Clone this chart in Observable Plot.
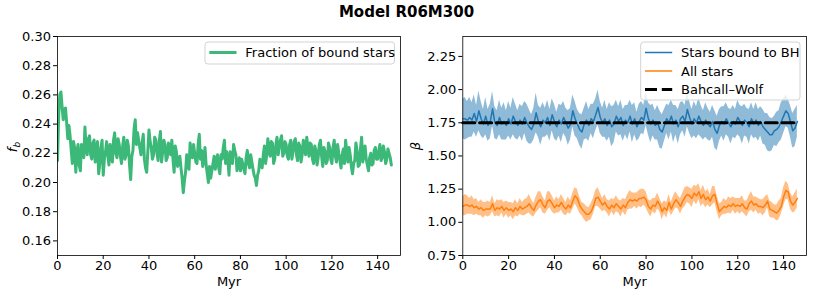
<!DOCTYPE html>
<html><head><meta charset="utf-8">
<script src="https://cdn.jsdelivr.net/npm/d3@7"></script>
<script src="https://cdn.jsdelivr.net/npm/@observablehq/plot@0.6"></script>
<style>
body{margin:0;background:#fff;font-family:"DejaVu Sans",sans-serif;}
#wrap{position:relative;width:813px;height:296px;overflow:hidden;}
#title{position:absolute;top:3px;left:0;width:813px;text-align:center;font-weight:bold;font-size:15px;color:#000;z-index:2;}
#left,#right{position:absolute;top:0;}
#left{left:0;}#right{left:406px;}
</style></head><body>
<div id="wrap"><div id="title">Model R06M300</div><div id="left"></div><div id="right"></div></div>
<script>
// ---- data ----
const timeMyr = d3.range(0, 147, 1);          // whole-Myr samples
const timeHalfMyr = d3.range(0.5, 146, 1);    // half-Myr samples (bound fraction only)
const boundFraction = [
0.215,0.260,0.252,0.250,0.241,0.239,0.222,0.228,0.207,0.226,
0.208,0.224,0.238,0.219,0.232,0.216,0.229,0.222,0.206,0.224,
0.205,0.221,0.219,0.226,0.214,0.234,0.217,0.226,0.213,0.231,
0.219,0.225,0.202,0.222,0.243,0.234,0.224,0.227,0.216,0.207,
0.236,0.224,0.219,0.229,0.215,0.235,0.221,0.226,0.217,0.224,
0.229,0.207,0.221,0.214,0.210,0.193,0.207,0.214,0.227,0.217,
0.220,0.213,0.233,0.222,0.216,0.212,0.200,0.203,0.213,0.209,
0.219,0.206,0.216,0.229,0.221,0.205,0.216,0.226,0.219,0.212,
0.208,0.213,0.206,0.222,0.210,0.214,0.205,0.198,0.208,0.213,
0.219,0.213,0.230,0.218,0.227,0.216,0.231,0.224,0.232,0.220,
0.226,0.216,0.229,0.221,0.230,0.215,0.225,0.219,0.224,0.231,
0.218,0.226,0.213,0.222,0.217,0.229,0.211,0.221,0.215,0.224,
0.213,0.229,0.214,0.220,0.210,0.223,0.229,0.214,0.219,0.206,
0.215,0.222,0.212,0.231,0.219,0.216,0.208,0.220,0.213,0.224,
0.216,0.226,0.217,0.221,0.216,0.220,0.212];
const boundFractionHalf = [
0.245,0.262,0.243,0.251,0.230,0.232,0.213,0.224,0.220,0.212,
0.226,0.217,0.224,0.230,0.219,0.227,0.214,0.228,0.213,0.229,
0.216,0.228,0.212,0.221,0.229,0.220,0.230,0.218,0.225,0.216,
0.229,0.212,0.218,0.237,0.226,0.229,0.219,0.233,0.210,0.221,
0.228,0.216,0.231,0.220,0.228,0.214,0.229,0.215,0.227,0.219,
0.216,0.225,0.211,0.218,0.203,0.201,0.219,0.209,0.221,0.226,
0.214,0.226,0.216,0.211,0.224,0.206,0.211,0.208,0.218,0.215,
0.210,0.219,0.224,0.213,0.216,0.221,0.213,0.222,0.208,0.217,
0.216,0.209,0.217,0.213,0.219,0.209,0.203,0.205,0.216,0.210,
0.225,0.219,0.221,0.228,0.213,0.226,0.219,0.229,0.218,0.228,
0.218,0.226,0.216,0.228,0.219,0.227,0.214,0.229,0.219,0.224,
0.227,0.216,0.225,0.212,0.226,0.218,0.224,0.213,0.227,0.216,
0.224,0.218,0.226,0.215,0.219,0.213,0.221,0.224,0.211,0.213,
0.227,0.211,0.223,0.214,0.225,0.212,0.217,0.212,0.222,0.216,
0.222,0.215,0.225,0.213,0.223,0.217];
const betaBound = [
1.78,1.78,1.77,1.79,1.77,1.82,1.76,1.84,1.78,1.74,
1.80,1.73,1.76,1.855,1.75,1.73,1.79,1.74,1.76,1.73,
1.78,1.74,1.80,1.76,1.73,1.77,1.74,1.79,1.75,1.72,
1.70,1.74,1.825,1.76,1.72,1.77,1.75,1.79,1.73,1.81,
1.76,1.72,1.77,1.74,1.79,1.75,1.71,1.74,1.84,1.78,
1.74,1.70,1.68,1.74,1.77,1.73,1.78,1.76,1.81,1.865,
1.79,1.75,1.78,1.73,1.77,1.72,1.74,1.80,1.76,1.79,
1.73,1.77,1.75,1.80,1.74,1.78,1.72,1.76,1.79,1.77,
1.86,1.78,1.74,1.77,1.73,1.75,1.70,1.68,1.73,1.78,
1.75,1.80,1.74,1.77,1.72,1.78,1.80,1.76,1.85,1.79,
1.74,1.78,1.75,1.80,1.76,1.73,1.77,1.74,1.72,1.76,
1.70,1.67,1.73,1.76,1.74,1.78,1.75,1.72,1.76,1.74,
1.79,1.76,1.73,1.77,1.75,1.72,1.78,1.74,1.77,1.73,
1.76,1.72,1.70,1.68,1.66,1.66,1.69,1.70,1.72,1.76,
1.80,1.84,1.82,1.76,1.69,1.71,1.76];
const betaBoundErr = [
0.15,0.16,0.14,0.15,0.13,0.14,0.12,0.15,0.13,0.11,
0.14,0.12,0.13,0.13,0.12,0.11,0.13,0.12,0.14,0.11,
0.13,0.12,0.14,0.13,0.11,0.12,0.13,0.12,0.14,0.13,
0.11,0.12,0.15,0.12,0.14,0.13,0.11,0.13,0.12,0.12,
0.13,0.11,0.12,0.14,0.12,0.11,0.13,0.12,0.12,0.13,
0.11,0.12,0.13,0.12,0.14,0.12,0.11,0.13,0.12,0.13,
0.12,0.11,0.14,0.12,0.13,0.15,0.14,0.12,0.11,0.13,
0.12,0.11,0.13,0.12,0.14,0.12,0.11,0.13,0.12,0.11,
0.13,0.12,0.14,0.12,0.11,0.13,0.14,0.13,0.12,0.11,
0.13,0.12,0.14,0.11,0.13,0.12,0.11,0.12,0.13,0.12,
0.11,0.13,0.12,0.14,0.12,0.11,0.13,0.12,0.11,0.12,
0.14,0.13,0.12,0.11,0.13,0.12,0.11,0.13,0.12,0.11,
0.13,0.12,0.14,0.12,0.11,0.13,0.12,0.11,0.13,0.12,
0.11,0.13,0.12,0.14,0.13,0.12,0.11,0.13,0.12,0.14,
0.13,0.12,0.11,0.12,0.13,0.14,0.12];
const betaAll = [
1.12,1.13,1.13,1.12,1.13,1.11,1.12,1.10,1.11,1.09,
1.10,1.10,1.10,1.14,1.09,1.11,1.10,1.12,1.09,1.11,
1.09,1.10,1.08,1.11,1.09,1.12,1.10,1.11,1.12,1.14,
1.11,1.09,1.13,1.16,1.17,1.13,1.11,1.16,1.17,1.14,
1.11,1.13,1.12,1.15,1.12,1.10,1.13,1.11,1.16,1.20,
1.18,1.13,1.10,1.08,1.06,1.06,1.08,1.12,1.18,1.19,
1.16,1.13,1.15,1.12,1.10,1.13,1.11,1.14,1.12,1.10,
1.13,1.11,1.15,1.17,1.16,1.17,1.16,1.18,1.18,1.19,
1.17,1.12,1.10,1.13,1.12,1.16,1.13,1.08,1.11,1.09,
1.15,1.10,1.14,1.17,1.15,1.12,1.16,1.19,1.21,1.20,
1.18,1.22,1.20,1.23,1.18,1.21,1.17,1.19,1.16,1.20,
1.21,1.14,1.08,1.10,1.12,1.11,1.13,1.12,1.14,1.12,
1.13,1.12,1.14,1.11,1.10,1.14,1.16,1.13,1.14,1.12,
1.12,1.11,1.13,1.16,1.10,1.09,1.08,1.07,1.09,1.12,
1.19,1.24,1.23,1.16,1.13,1.15,1.18];
const betaAllErr = [
0.07,0.08,0.07,0.06,0.07,0.06,0.06,0.05,0.06,0.06,
0.05,0.06,0.05,0.06,0.05,0.06,0.06,0.05,0.06,0.05,
0.06,0.05,0.06,0.06,0.05,0.06,0.05,0.06,0.06,0.07,
0.06,0.05,0.06,0.07,0.06,0.06,0.05,0.07,0.06,0.06,
0.05,0.06,0.05,0.06,0.06,0.05,0.06,0.05,0.06,0.06,
0.07,0.06,0.05,0.06,0.06,0.05,0.06,0.06,0.06,0.07,
0.06,0.05,0.06,0.05,0.06,0.05,0.06,0.06,0.05,0.06,
0.05,0.06,0.06,0.07,0.06,0.05,0.06,0.06,0.07,0.06,
0.06,0.05,0.06,0.05,0.06,0.06,0.05,0.06,0.05,0.06,
0.06,0.05,0.06,0.06,0.05,0.06,0.06,0.07,0.06,0.06,
0.07,0.06,0.07,0.06,0.06,0.07,0.06,0.06,0.05,0.07,
0.06,0.06,0.06,0.05,0.06,0.05,0.06,0.06,0.05,0.06,
0.05,0.06,0.06,0.05,0.06,0.06,0.07,0.06,0.05,0.06,
0.05,0.06,0.06,0.05,0.06,0.06,0.05,0.06,0.07,0.06,
0.07,0.07,0.06,0.06,0.06,0.07,0.07];
const bahcallWolf = 1.75;
const xTicks = [0, 20, 40, 60, 80, 100, 120, 140];
const fbTicks = [0.16, 0.18, 0.20, 0.22, 0.24, 0.26, 0.28, 0.30];
const betaTicks = [0.75, 1.00, 1.25, 1.50, 1.75, 2.00, 2.25];

// ---- tables ----
const leftRows = timeMyr.map((t, i) => ({t, fb: boundFraction[i]}))
  .concat(timeHalfMyr.map((t, i) => ({t, fb: boundFractionHalf[i]})))
  .sort((a, b) => a.t - b.t);
const rightRows = timeMyr.map((t, i) => ({t, b: betaBound[i], bs: betaBoundErr[i], a: betaAll[i], as: betaAllErr[i], bw: bahcallWolf}));

const GREEN = "#3cb878", BLUE = "#1f77b4", ORANGE = "#ff7f0e";
const FS = 13;
const DASH = "12,4.8";
const baseStyle = {fontFamily: "DejaVu Sans, sans-serif", fontSize: FS + "px", color: "black", background: "transparent", overflow: "visible"};

const leftSvg = Plot.plot({
  width: 406, height: 296,
  marginLeft: 57, marginRight: 6, marginTop: 36, marginBottom: 41,
  style: baseStyle,
  x: {domain: [0, 150]},
  y: {domain: [0.15, 0.30]},
  marks: [
    Plot.axisX({ticks: xTicks, tickSize: 4, tickPadding: 1.5, tickFormat: d => String(d), label: null, fontSize: FS}),
    Plot.axisY({ticks: fbTicks, tickSize: 4, tickPadding: 2.5, tickFormat: d3.format(".2f"), label: null, fontSize: FS}),
    Plot.lineY(leftRows, {x: "t", y: "fb", stroke: GREEN, strokeWidth: 3, clip: true}),
    Plot.text(["Myr"], {frameAnchor: "bottom", dy: 30, text: d => d, fontSize: FS, fill: "black"}),
    Plot.frame({stroke: "black", strokeWidth: 0.8})
  ]
});

const rightSvg = Plot.plot({
  width: 407, height: 296,
  marginLeft: 56.3, marginRight: 7, marginTop: 36, marginBottom: 41,
  style: baseStyle,
  x: {domain: [0, 150]},
  y: {domain: [0.75, 2.40]},
  marks: [
    Plot.axisX({ticks: xTicks, tickSize: 4, tickPadding: 1.5, tickFormat: d => String(d), label: null, fontSize: FS}),
    Plot.axisY({ticks: betaTicks, tickSize: 4, tickPadding: 2.5, tickFormat: d3.format(".2f"), label: null, fontSize: FS}),
    Plot.areaY(rightRows, {x: "t", y1: d => d.b - d.bs, y2: d => d.b + d.bs, fill: BLUE, fillOpacity: 0.5, clip: true}),
    Plot.lineY(rightRows, {x: "t", y: "b", stroke: BLUE, strokeWidth: 1.5, clip: true}),
    Plot.areaY(rightRows, {x: "t", y1: d => d.a - d.as, y2: d => d.a + d.as, fill: ORANGE, fillOpacity: 0.5, clip: true}),
    Plot.lineY(rightRows, {x: "t", y: "a", stroke: ORANGE, strokeWidth: 1.5, clip: true}),
    Plot.lineY(rightRows, {x: "t", y: "bw", stroke: "black", strokeWidth: 3, strokeDasharray: DASH}),
    Plot.text(["Myr"], {frameAnchor: "bottom", dy: 30, text: d => d, fontSize: FS, fill: "black"}),
    Plot.frame({stroke: "black", strokeWidth: 0.8})
  ]
});

document.getElementById("left").appendChild(leftSvg);
document.getElementById("right").appendChild(rightSvg);

function addLegend(svg, x, y, w, h, items) {
  const g = d3.select(svg).append("g").attr("text-anchor", "start");
  g.append("rect").attr("x", x).attr("y", y).attr("width", w).attr("height", h).attr("rx", 3)
    .attr("fill", "white").attr("fill-opacity", 0.8).attr("stroke", "#d3d3d3").attr("stroke-width", 1);
  items.forEach((it, i) => {
    const cy = y + 10.5 + i * 18.5;
    g.append("line").attr("x1", x + 4.3).attr("x2", x + 31.5).attr("y1", cy).attr("y2", cy)
      .attr("stroke", it.color).attr("stroke-width", it.width).attr("stroke-dasharray", it.dash || null);
    g.append("text").attr("x", x + 40.3).attr("y", cy).attr("dy", "0.35em").attr("text-anchor", "start")
      .attr("font-size", FS).attr("fill", "black").text(it.label);
  });
}
addLegend(leftSvg, 205, 42, 189.5, 22, [{label: "Fraction of bound stars", color: GREEN, width: 3}]);
addLegend(rightSvg, 234.7, 42, 159.3, 58, [
  {label: "Stars bound to BH", color: BLUE, width: 1.5},
  {label: "All stars", color: ORANGE, width: 1.5},
  {label: "Bahcall\u2013Wolf", color: "black", width: 3, dash: DASH}
]);

function addYLabel(svg, x, y, parts) {
  const t = d3.select(svg).append("text")
    .attr("transform", `translate(${x},${y}) rotate(-90)`)
    .attr("text-anchor", "middle").attr("font-size", 13).attr("fill", "black");
  parts.forEach(p => {
    const s = t.append("tspan").text(p.text).attr("font-style", "italic");
    if (p.sub) s.attr("font-size", 9).attr("dy", 3);
  });
}
addYLabel(leftSvg, 17, 147, [{text: "f"}, {text: "b", sub: true}]);
addYLabel(rightSvg, 14, 146, [{text: "β"}]);
</script>
</body></html>
